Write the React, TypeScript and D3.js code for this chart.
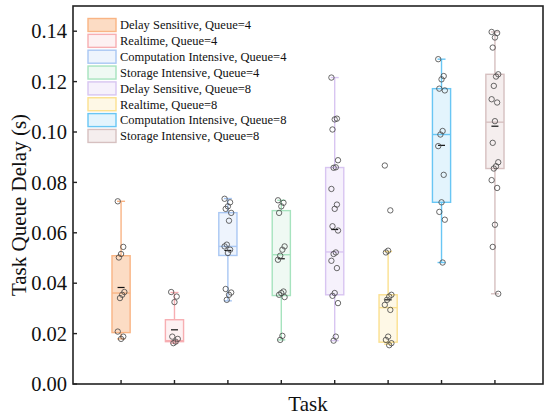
import React, { useEffect, useRef } from "react";
import * as d3 from "d3";

const categories = [
  "Delay Sensitive, Queue=4",
  "Realtime, Queue=4",
  "Computation Intensive, Queue=4",
  "Storage Intensive, Queue=4",
  "Delay Sensitive, Queue=8",
  "Realtime, Queue=8",
  "Computation Intensive, Queue=8",
  "Storage Intensive, Queue=8",
];

const strokeColors = ["#F9B484", "#F7AEB2", "#A9C7F3", "#A6E3BE", "#D8C5F1", "#FBE08F", "#69C6F4", "#D6C0C0"];
const fillColors = ["#FCDCC4", "#FDF1F2", "#EEF4FD", "#EFF9F3", "#F6F1FC", "#FEF8E6", "#E3F4FD", "#F5EEEE"];

const whiskerLow = [0.0179, 0.0162, 0.0330, 0.0175, 0.0172, 0.0158, 0.0482, 0.0358];
const q1 = [0.0204, 0.0168, 0.0510, 0.0351, 0.0354, 0.0166, 0.0721, 0.0855];
const median = [0.0361, 0.0172, 0.0546, 0.0513, 0.0524, 0.0303, 0.0990, 0.1039];
const q3 = [0.0509, 0.0255, 0.0680, 0.0688, 0.0859, 0.0354, 0.1172, 0.1229];
const whiskerHigh = [0.0725, 0.0363, 0.0736, 0.0729, 0.1216, 0.0526, 0.1289, 0.1397];
const means = [0.0383, 0.0215, 0.0530, 0.0497, 0.0613, 0.0334, 0.0947, 0.1023];

const pointsDS4 = [0.0725, 0.0544, 0.0516, 0.0502, 0.0365, 0.0354, 0.0341, 0.0208, 0.0188, 0.0179];
const pointsRT4 = [0.0365, 0.0347, 0.0325, 0.0188, 0.0179, 0.0168, 0.0162];
const pointsCI4 = [0.0735, 0.0721, 0.0705, 0.0695, 0.0679, 0.0648, 0.0553, 0.0546, 0.0533, 0.0520, 0.0377, 0.0363, 0.0354, 0.0334];
const pointsSI4 = [0.0729, 0.0719, 0.0705, 0.0679, 0.0546, 0.0533, 0.0509, 0.0493, 0.0367, 0.0361, 0.0354, 0.0345, 0.0191, 0.0175];
const pointsDS8 = [0.1216, 0.1053, 0.1050, 0.1010, 0.0888, 0.0860, 0.0858, 0.0774, 0.0712, 0.0695, 0.0626, 0.0609, 0.0522, 0.0516, 0.0489, 0.0460, 0.0361, 0.0350, 0.0321, 0.0188, 0.0172];
const pointsRT8 = [0.0867, 0.0689, 0.0529, 0.0522, 0.0354, 0.0347, 0.0334, 0.0314, 0.0294, 0.0188, 0.0175, 0.0162, 0.0154];
const pointsCI8 = [0.1289, 0.1222, 0.1209, 0.1172, 0.1165, 0.1004, 0.0990, 0.0944, 0.0830, 0.0721, 0.0683, 0.0652, 0.0482];
const pointsSI8 = [0.1397, 0.1393, 0.1375, 0.1335, 0.1229, 0.1220, 0.1183, 0.1130, 0.1117, 0.1043, 0.0957, 0.0880, 0.0864, 0.0855, 0.0809, 0.0778, 0.0632, 0.0544, 0.0358];
const allPoints = [pointsDS4, pointsRT4, pointsCI4, pointsSI4, pointsDS8, pointsRT8, pointsCI8, pointsSI8];

const yTicks = [0, 0.02, 0.04, 0.06, 0.08, 0.1, 0.12, 0.14];
const xTitle = "Task";
const yTitle = "Task Queue Delay (s)";

const W = 550;
const H = 418;
const FONT = "'Liberation Serif', 'Times New Roman', serif";

export default function App() {
  const ref = useRef<SVGSVGElement | null>(null);

  useEffect(() => {
    document.body.style.margin = "0";
    const svg = d3.select(ref.current);
    svg.selectAll("*").remove();

    const left = 73, right = 543, top = 6, bottom = 384;
    const x = d3.scaleLinear().domain([0.1, 8.9]).range([left, right]);
    const y = d3.scaleLinear().domain([0, 0.15]).range([bottom, top]);
    const bw = x(1.17) - x(1);
    const capW = 4;

    const g = svg.append("g");

    categories.forEach((_, i) => {
      const cx = x(i + 1);
      const sc = strokeColors[i];
      // whiskers
      g.append("line").attr("x1", cx).attr("x2", cx).attr("y1", y(q3[i])).attr("y2", y(whiskerHigh[i]))
        .attr("stroke", sc).attr("stroke-width", 1.4);
      g.append("line").attr("x1", cx).attr("x2", cx).attr("y1", y(q1[i])).attr("y2", y(whiskerLow[i]))
        .attr("stroke", sc).attr("stroke-width", 1.4);
      [whiskerHigh[i], whiskerLow[i]].forEach((v) => {
        g.append("line").attr("x1", cx - capW).attr("x2", cx + capW).attr("y1", y(v)).attr("y2", y(v))
          .attr("stroke", sc).attr("stroke-width", 1.4);
      });
      // box
      g.append("rect").attr("x", cx - bw).attr("width", 2 * bw)
        .attr("y", y(q3[i])).attr("height", y(q1[i]) - y(q3[i]))
        .attr("fill", fillColors[i]).attr("stroke", sc).attr("stroke-width", 1.4);
      g.append("line").attr("x1", cx - bw).attr("x2", cx + bw).attr("y1", y(median[i])).attr("y2", y(median[i]))
        .attr("stroke", sc).attr("stroke-width", 1.4);
      // mean
      g.append("line").attr("x1", cx - 3.5).attr("x2", cx + 3.5).attr("y1", y(means[i])).attr("y2", y(means[i]))
        .attr("stroke", "#111").attr("stroke-width", 1.2);
      // points
      allPoints[i].forEach((v, j) => {
        const jit = (((j * 5) % 7) - 3) * 1.1;
        g.append("circle").attr("cx", cx + jit).attr("cy", y(v)).attr("r", 2.7)
          .attr("fill", "none").attr("stroke", "#444").attr("stroke-width", 0.8);
      });
    });

    // frame
    g.append("rect").attr("x", left).attr("y", top).attr("width", right - left).attr("height", bottom - top)
      .attr("fill", "none").attr("stroke", "#222").attr("stroke-width", 1.6);

    // y ticks
    yTicks.forEach((t) => {
      g.append("line").attr("x1", left).attr("x2", left + 4).attr("y1", y(t)).attr("y2", y(t))
        .attr("stroke", "#222").attr("stroke-width", 1.4);
      g.append("text").attr("x", left - 6).attr("y", y(t)).attr("dy", "0.35em").attr("text-anchor", "end")
        .attr("font-family", FONT).attr("font-size", 20.5).attr("fill", "#111").text(d3.format(".2f")(t));
    });
    // x ticks
    categories.forEach((_, i) => {
      g.append("line").attr("x1", x(i + 1)).attr("x2", x(i + 1)).attr("y1", bottom).attr("y2", bottom - 4)
        .attr("stroke", "#222").attr("stroke-width", 1.4);
    });

    g.append("text").attr("x", (left + right) / 2).attr("y", 411).attr("text-anchor", "middle")
      .attr("font-family", FONT).attr("font-size", 21).attr("fill", "#111").text(xTitle);
    g.append("text").attr("transform", `translate(26,${(top + bottom) / 2 + 10}) rotate(-90)`)
      .attr("text-anchor", "middle").attr("font-family", FONT).attr("font-size", 21).attr("fill", "#111").text(yTitle);

    // legend
    categories.forEach((c, i) => {
      const cy = 25 + i * 15.85;
      g.append("rect").attr("x", 88).attr("y", cy - 6.5).attr("width", 28).attr("height", 13)
        .attr("fill", fillColors[i]).attr("stroke", strokeColors[i]).attr("stroke-width", 1.4);
      g.append("text").attr("x", 120).attr("y", cy).attr("dy", "0.35em")
        .attr("font-family", FONT).attr("font-size", 12.5).attr("fill", "#111").text(c);
    });
  }, []);

  return <svg ref={ref} width={W} height={H} style={{ display: "block", background: "#fff" }} />;
}
